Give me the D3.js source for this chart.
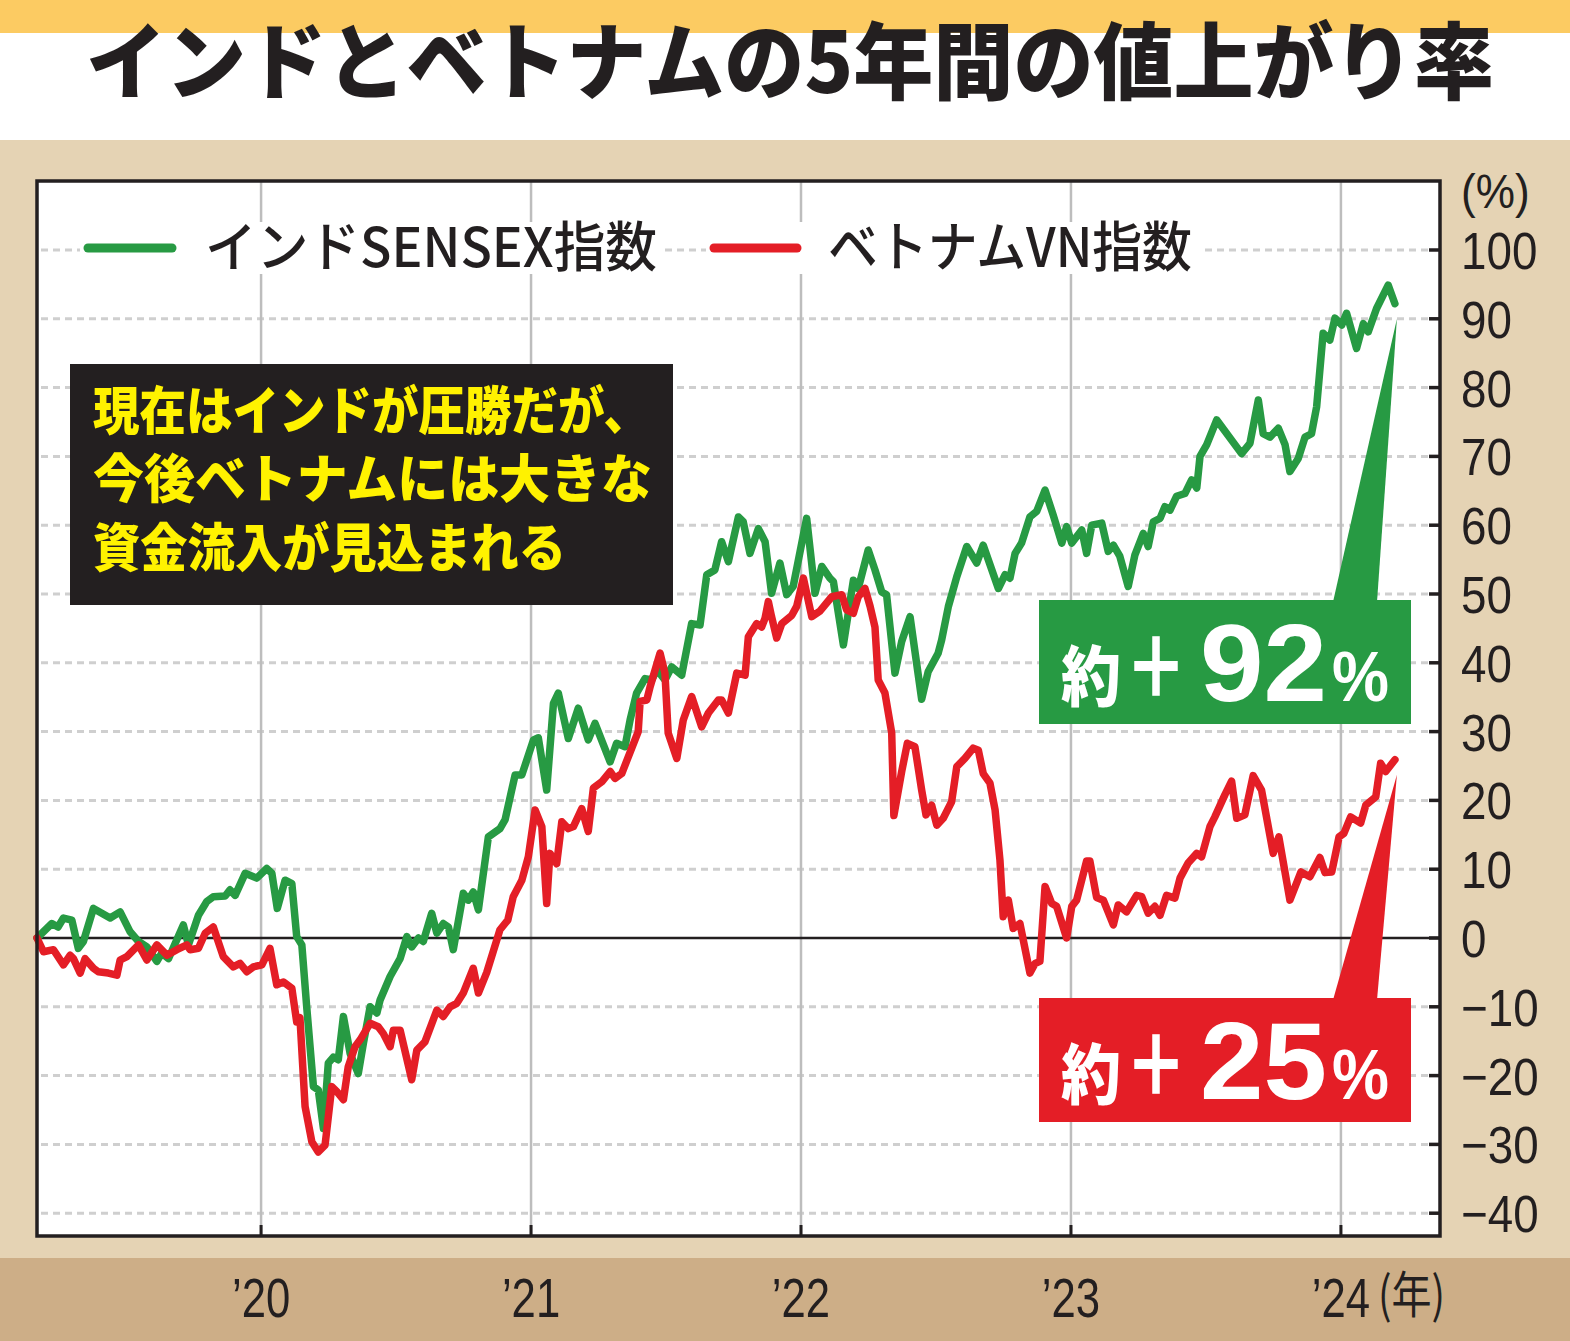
<!DOCTYPE html>
<html><head><meta charset="utf-8">
<script src="https://cdn.jsdelivr.net/npm/d3@7"></script>
<style>html,body{margin:0;padding:0;background:#fff;}svg{display:block;}</style>
</head><body>
<svg id="c" width="1570" height="1341"></svg>
<script>
// ---- data (time in decimal years, value in % change) ----
const sensex = [[2019.170,0.0],[2019.225,2.1],[2019.248,1.6],[2019.268,2.9],[2019.299,2.6],[2019.323,-1.5],[2019.342,-0.5],[2019.379,4.3],[2019.441,2.9],[2019.478,3.8],[2019.515,0.9],[2019.546,-0.5],[2019.577,-1.3],[2019.614,-3.4],[2019.632,-2.2],[2019.657,-3.0],[2019.712,1.9],[2019.731,-1.0],[2019.768,3.3],[2019.799,5.3],[2019.823,6.0],[2019.867,6.1],[2019.885,7.0],[2019.904,6.2],[2019.941,9.4],[2019.984,8.7],[2020.021,10.1],[2020.040,9.4],[2020.060,4.3],[2020.089,8.4],[2020.114,7.9],[2020.132,0.2],[2020.151,-1.0],[2020.169,-10.0],[2020.194,-21.6],[2020.212,-22.1],[2020.231,-27.7],[2020.249,-18.2],[2020.268,-17.3],[2020.286,-17.7],[2020.305,-11.4],[2020.330,-16.8],[2020.360,-19.7],[2020.379,-15.3],[2020.404,-10.0],[2020.429,-10.9],[2020.441,-9.0],[2020.478,-5.6],[2020.515,-3.0],[2020.540,0.2],[2020.558,-1.3],[2020.583,0.0],[2020.601,-0.5],[2020.632,3.6],[2020.651,0.7],[2020.675,2.1],[2020.694,1.6],[2020.712,-1.7],[2020.749,6.5],[2020.768,5.5],[2020.786,6.7],[2020.805,4.1],[2020.842,14.7],[2020.885,15.9],[2020.904,17.2],[2020.941,23.7],[2020.966,23.7],[2021.009,28.8],[2021.027,29.1],[2021.058,21.5],[2021.083,34.1],[2021.101,35.6],[2021.138,29.0],[2021.175,33.4],[2021.212,28.8],[2021.237,31.2],[2021.293,25.6],[2021.317,28.3],[2021.348,27.8],[2021.367,31.7],[2021.391,35.6],[2021.422,37.7],[2021.447,37.5],[2021.466,39.0],[2021.496,37.5],[2021.521,39.4],[2021.558,38.2],[2021.595,45.7],[2021.626,45.5],[2021.651,52.8],[2021.681,53.5],[2021.706,57.6],[2021.731,54.7],[2021.768,61.2],[2021.786,60.5],[2021.811,55.9],[2021.842,59.5],[2021.867,57.6],[2021.891,50.1],[2021.922,54.5],[2021.947,49.9],[2021.971,51.1],[2022.021,61.0],[2022.052,50.1],[2022.077,54.0],[2022.107,52.3],[2022.120,51.8],[2022.157,42.6],[2022.194,52.0],[2022.212,50.8],[2022.249,56.4],[2022.274,53.5],[2022.299,50.3],[2022.317,49.9],[2022.348,38.5],[2022.373,43.1],[2022.404,46.7],[2022.447,34.7],[2022.471,38.7],[2022.508,41.4],[2022.521,43.3],[2022.546,48.2],[2022.577,52.5],[2022.614,56.9],[2022.651,54.5],[2022.675,57.1],[2022.731,50.8],[2022.756,52.8],[2022.774,52.3],[2022.793,55.9],[2022.817,57.4],[2022.848,61.2],[2022.873,62.0],[2022.904,65.1],[2022.934,61.5],[2022.966,57.4],[2022.984,59.8],[2023.003,57.4],[2023.040,59.3],[2023.058,55.9],[2023.077,60.0],[2023.114,60.3],[2023.138,56.2],[2023.157,57.1],[2023.181,55.5],[2023.212,51.1],[2023.237,55.7],[2023.268,58.8],[2023.286,56.9],[2023.305,60.5],[2023.330,61.0],[2023.348,62.7],[2023.367,62.2],[2023.391,64.2],[2023.422,64.6],[2023.447,66.6],[2023.466,65.4],[2023.478,70.0],[2023.503,71.7],[2023.540,75.3],[2023.632,70.4],[2023.663,71.9],[2023.694,78.2],[2023.712,73.3],[2023.737,72.8],[2023.768,74.1],[2023.793,71.7],[2023.811,67.8],[2023.842,69.7],[2023.867,72.8],[2023.891,73.3],[2023.910,77.2],[2023.934,87.9],[2023.959,86.9],[2023.978,90.1],[2024.003,89.1],[2024.021,90.8],[2024.058,85.7],[2024.083,89.3],[2024.101,88.1],[2024.132,91.5],[2024.175,94.9],[2024.200,92.2]];

const vn = [[2019.170,0.0],[2019.194,-2.0],[2019.231,-1.7],[2019.268,-3.9],[2019.293,-2.5],[2019.305,-3.0],[2019.330,-5.1],[2019.348,-3.0],[2019.379,-4.4],[2019.397,-4.9],[2019.434,-5.1],[2019.466,-5.4],[2019.478,-3.2],[2019.503,-2.7],[2019.546,-1.0],[2019.577,-3.2],[2019.614,-1.0],[2019.651,-2.5],[2019.688,-1.7],[2019.725,-1.0],[2019.737,-1.7],[2019.768,-1.5],[2019.793,0.7],[2019.823,1.6],[2019.860,-2.7],[2019.897,-4.2],[2019.922,-3.7],[2019.947,-4.9],[2019.971,-4.2],[2020.003,-3.9],[2020.033,-1.5],[2020.058,-6.8],[2020.083,-6.4],[2020.114,-7.3],[2020.132,-12.2],[2020.144,-11.6],[2020.163,-24.5],[2020.188,-29.6],[2020.212,-31.1],[2020.237,-30.1],[2020.262,-21.6],[2020.280,-22.3],[2020.305,-23.5],[2020.323,-18.7],[2020.348,-15.8],[2020.367,-14.8],[2020.404,-12.4],[2020.434,-12.9],[2020.453,-13.9],[2020.478,-15.8],[2020.490,-13.4],[2020.515,-13.4],[2020.558,-20.6],[2020.577,-16.3],[2020.607,-15.1],[2020.651,-10.5],[2020.675,-11.4],[2020.700,-10.0],[2020.725,-9.5],[2020.749,-8.0],[2020.786,-4.4],[2020.805,-8.0],[2020.836,-5.0],[2020.873,-0.3],[2020.885,1.2],[2020.914,2.6],[2020.934,6.0],[2020.966,8.4],[2020.990,11.8],[2021.015,18.6],[2021.040,16.2],[2021.058,5.0],[2021.070,12.3],[2021.095,10.8],[2021.114,16.9],[2021.138,15.9],[2021.157,16.2],[2021.188,18.8],[2021.212,15.5],[2021.231,21.8],[2021.262,22.7],[2021.293,24.2],[2021.311,23.2],[2021.336,23.9],[2021.373,27.6],[2021.397,30.0],[2021.404,34.4],[2021.429,34.6],[2021.441,36.5],[2021.478,41.4],[2021.496,38.5],[2021.508,29.8],[2021.540,26.1],[2021.564,31.7],[2021.595,35.1],[2021.632,30.7],[2021.657,32.7],[2021.694,34.6],[2021.706,34.6],[2021.731,32.7],[2021.762,38.5],[2021.793,38.2],[2021.805,43.8],[2021.836,45.7],[2021.854,45.2],[2021.867,46.5],[2021.879,48.9],[2021.891,46.7],[2021.910,43.6],[2021.929,45.7],[2021.966,46.9],[2021.984,48.2],[2022.009,52.3],[2022.040,46.7],[2022.070,47.5],[2022.114,49.6],[2022.151,49.9],[2022.169,47.7],[2022.194,47.2],[2022.212,49.6],[2022.237,50.8],[2022.256,48.2],[2022.274,45.2],[2022.286,37.5],[2022.311,35.6],[2022.336,29.8],[2022.344,17.8],[2022.373,24.2],[2022.394,28.3],[2022.422,27.8],[2022.447,21.5],[2022.463,17.9],[2022.484,19.3],[2022.503,16.4],[2022.527,17.4],[2022.558,19.8],[2022.577,24.9],[2022.607,26.1],[2022.638,27.6],[2022.657,27.3],[2022.675,23.9],[2022.700,22.5],[2022.719,18.6],[2022.737,11.3],[2022.749,3.1],[2022.768,5.5],[2022.786,1.4],[2022.811,2.1],[2022.848,-5.1],[2022.867,-3.7],[2022.885,-3.4],[2022.904,7.5],[2022.929,5.0],[2022.947,4.6],[2022.984,0.0],[2023.003,4.6],[2023.021,5.5],[2023.058,11.2],[2023.070,11.2],[2023.095,5.9],[2023.120,5.5],[2023.157,1.9],[2023.175,4.8],[2023.206,3.8],[2023.243,6.2],[2023.262,6.0],[2023.286,3.6],[2023.311,4.6],[2023.330,3.3],[2023.354,6.2],[2023.385,5.8],[2023.404,8.7],[2023.434,10.9],[2023.466,12.3],[2023.484,11.8],[2023.515,16.2],[2023.533,17.6],[2023.570,20.8],[2023.595,22.8],[2023.614,17.4],[2023.644,17.9],[2023.675,23.6],[2023.706,21.5],[2023.749,12.3],[2023.770,14.7],[2023.811,5.5],[2023.852,9.6],[2023.885,8.9],[2023.922,11.7],[2023.941,9.5],[2023.966,9.6],[2023.993,14.7],[2024.011,15.2],[2024.036,17.6],[2024.073,16.7],[2024.092,19.3],[2024.129,20.5],[2024.147,25.4],[2024.166,24.2],[2024.200,25.9]];

const yTicks = [100,90,80,70,60,50,40,30,20,10,0,-10,-20,-30,-40];
const yearTicks = [2020,2021,2022,2023,2024];
const yearLabels = ["’20","’21","’22","’23","’24"];
const seriesNames = ["インドSENSEX指数","ベトナムVN指数"];
const calloutNumbers = ["92","25"];
const titleText = "インドとベトナムの5年間の値上がり率";
const noteLines = ["現在はインドが圧勝だが、","今後ベトナムには大きな","資金流入が見込まれる"];

// ---- drawing ----
const GREEN = "#279a43", RED = "#e41e26", INK = "#231f20";
const CJK = "'Noto Sans CJK JP','Noto Sans CJK SC',sans-serif";
const LAT = "'Liberation Sans',Arial,sans-serif";
const svg = d3.select("#c");

// backgrounds
svg.append("rect").attr("x",0).attr("y",0).attr("width",1570).attr("height",1341).attr("fill","#fff");
svg.append("rect").attr("x",0).attr("y",0).attr("width",1570).attr("height",33).attr("fill","#fccb62");
svg.append("rect").attr("x",0).attr("y",140).attr("width",1570).attr("height",1118).attr("fill","#e5d3b4");
svg.append("rect").attr("x",0).attr("y",1258).attr("width",1570).attr("height",83).attr("fill","#cdae87");

// title
svg.append("text").attr("x",86).attr("y",93).attr("font-family",CJK).attr("font-weight",900)
  .attr("font-size",84).attr("fill",INK).attr("textLength",1408).attr("lengthAdjust","spacingAndGlyphs")
  .text(titleText);

const L = 37, R = 1440, T = 181, B = 1236;
const x = d3.scaleLinear().domain([2019.170, 2024.367]).range([L, R]);
const y = d3.scaleLinear().domain([0, 100]).range([938, 250]);

svg.append("rect").attr("x",L).attr("y",T).attr("width",R-L).attr("height",B-T).attr("fill","#fff");

// horizontal dashed grid
svg.append("g").selectAll("line").data(yTicks.filter(d=>d!==0)).join("line")
  .attr("x1",L+4).attr("x2",R-10).attr("y1",d=>y(d)).attr("y2",d=>y(d))
  .attr("stroke","#cfcfcf").attr("stroke-width",3).attr("stroke-dasharray","7,5");
// vertical year lines
svg.append("g").selectAll("line").data(yearTicks).join("line")
  .attr("x1",d=>x(d)).attr("x2",d=>x(d)).attr("y1",T).attr("y2",B)
  .attr("stroke","#bdbdbd").attr("stroke-width",2.5);
// zero line
svg.append("line").attr("x1",L).attr("x2",R).attr("y1",y(0)).attr("y2",y(0)).attr("stroke",INK).attr("stroke-width",2.5);
// right ticks
svg.append("g").selectAll("line").data(yTicks).join("line")
  .attr("x1",R-11).attr("x2",R).attr("y1",d=>y(d)).attr("y2",d=>y(d)).attr("stroke",INK).attr("stroke-width",3.5);
// bottom ticks
svg.append("g").selectAll("line").data(yearTicks).join("line")
  .attr("x1",d=>x(d)).attr("x2",d=>x(d)).attr("y1",B-11).attr("y2",B).attr("stroke",INK).attr("stroke-width",3);

// legend
const legend = [
  {name:seriesNames[0], color:GREEN, lx1:88, lx2:172, tx:205, tw:452, bg:[80,665]},
  {name:seriesNames[1], color:RED, lx1:714, lx2:797, tx:828, tw:364, bg:[706,1200]}
];
const legY = 248;
legend.forEach(l=>{
  svg.append("rect").attr("x",l.bg[0]).attr("y",legY-26).attr("width",l.bg[1]-l.bg[0]).attr("height",52).attr("fill","#fff");
  svg.append("line").attr("x1",l.lx1).attr("x2",l.lx2).attr("y1",legY).attr("y2",legY)
    .attr("stroke",l.color).attr("stroke-width",9).attr("stroke-linecap","round");
  svg.append("text").attr("x",l.tx).attr("y",legY+19).attr("font-family",CJK).attr("font-weight",500)
    .attr("font-size",54).attr("fill",INK).attr("textLength",l.tw).attr("lengthAdjust","spacingAndGlyphs").text(l.name);
});

// note box
svg.append("rect").attr("x",70).attr("y",364).attr("width",603).attr("height",241).attr("fill",INK);
const noteW = [557,559,473], noteB = [430,498,567];
noteLines.forEach((s,i)=>{
  svg.append("text").attr("x",93).attr("y",noteB[i]).attr("font-family",CJK).attr("font-weight",900)
    .attr("font-size",52).attr("fill","#fff200").attr("textLength",noteW[i]).attr("lengthAdjust","spacingAndGlyphs").text(s);
});

// series lines
const line = d3.line().x(d=>x(d[0])).y(d=>y(d[1])).curve(d3.curveLinear);
svg.append("path").datum(sensex).attr("d",line).attr("fill","none").attr("stroke",GREEN)
  .attr("stroke-width",7.5).attr("stroke-linejoin","round").attr("stroke-linecap","round");
svg.append("path").datum(vn).attr("d",line).attr("fill","none").attr("stroke",RED)
  .attr("stroke-width",7.5).attr("stroke-linejoin","round").attr("stroke-linecap","round");

// plot frame
svg.append("rect").attr("x",L).attr("y",T).attr("width",R-L).attr("height",B-T).attr("fill","none")
  .attr("stroke",INK).attr("stroke-width",3.5);

// callouts
const callouts = [
  {series:sensex, color:GREEN, top:600, num:calloutNumbers[0]},
  {series:vn, color:RED, top:998, num:calloutNumbers[1]}
];
callouts.forEach(c=>{
  const last = c.series[c.series.length-1];
  const tipX = x(last[0]) + 2, tipY = y(last[1]) + 15;
  svg.append("path").attr("d",`M1333,${c.top+2}L${tipX},${tipY}L1377,${c.top+2}Z`).attr("fill",c.color);
  svg.append("rect").attr("x",1039).attr("y",c.top).attr("width",372).attr("height",124).attr("fill",c.color);
  const base = c.top + 101;
  svg.append("text").attr("x",1061).attr("y",base).attr("font-family",CJK).attr("font-weight",900)
    .attr("font-size",66).attr("fill","#fff").attr("textLength",60).attr("lengthAdjust","spacingAndGlyphs").text("約");
  svg.append("text").attr("x",1125).attr("y",base-3).attr("font-family",CJK).attr("font-weight",900)
    .attr("font-size",84).attr("fill","#fff").attr("textLength",62).attr("lengthAdjust","spacingAndGlyphs").text("＋");
  svg.append("text").attr("x",1200).attr("y",base).attr("font-family",LAT).attr("font-weight",700)
    .attr("font-size",110).attr("fill","#fff").attr("textLength",127).attr("lengthAdjust","spacingAndGlyphs").text(c.num);
  svg.append("text").attr("x",1332).attr("y",base).attr("font-family",LAT).attr("font-weight",700)
    .attr("font-size",70).attr("fill","#fff").attr("textLength",57).attr("lengthAdjust","spacingAndGlyphs").text("%");
});

// y labels
const fmt = d => d < 0 ? "−" + Math.abs(d) : String(d);
svg.append("g").selectAll("text").data(yTicks).join("text")
  .attr("transform",d=>`translate(1461,${y(d)+19}) scale(0.88,1)`)
  .attr("font-family",LAT).attr("font-size",52).attr("fill",INK).text(fmt);
svg.append("text").attr("transform","translate(1461,208) scale(0.92,1)")
  .attr("font-family",LAT).attr("font-size",48).attr("fill",INK).text("(%)");

// x labels
svg.append("g").selectAll("text").data(yearTicks).join("text")
  .attr("transform",d=>`translate(${x(d)},1317) scale(0.78,1)`).attr("text-anchor","middle")
  .attr("font-family",LAT).attr("font-size",56).attr("fill",INK).text((d,i)=>yearLabels[i]);
svg.append("text").attr("transform","translate(1378,1313) scale(0.8,1)")
  .attr("font-family",CJK).attr("font-size",50).attr("fill",INK).text("(年)");
</script>
</body></html>
